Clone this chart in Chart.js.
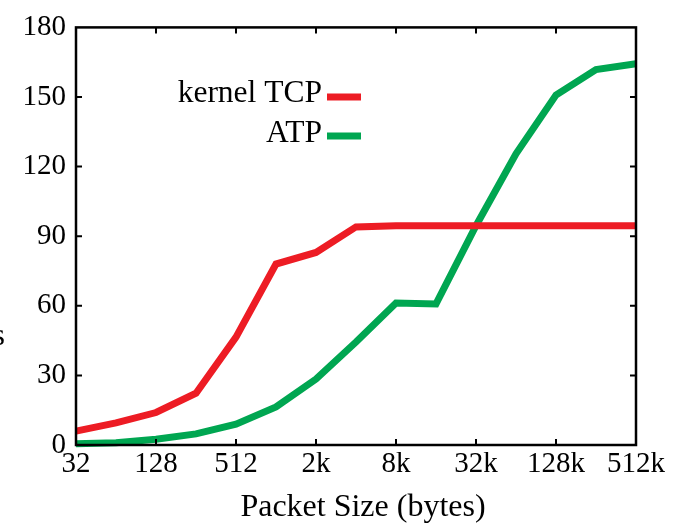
<!DOCTYPE html>
<html>
<head>
<meta charset="utf-8">
<script src="https://cdn.jsdelivr.net/npm/chart.js@4/dist/chart.umd.min.js"></script>
<style>
  html, body { margin: 0; padding: 0; background: #fff; }
  #wrap { position: relative; width: 674px; height: 523px; }
</style>
</head>
<body>
<div id="wrap"><canvas id="c" width="674" height="523"></canvas></div>
<script>
// ---- data ----
const packetSizes = ['32','64','128','256','512','1k','2k','4k','8k','16k','32k','64k','128k','256k','512k'];
const kernelTCP = [6, 9.5, 14, 22.3, 46.5, 78, 83, 94, 94.5, 94.5, 94.5, 94.5, 94.5, 94.5, 94.5];
const atp       = [0.5, 1, 2.5, 4.8, 9, 16.4, 28.4, 44.4, 61.2, 60.8, 94.5, 125.5, 150.8, 161.8, 164.3];
const yTicks = [0, 30, 60, 90, 120, 150, 180];
const seriesNames = ['kernel TCP', 'ATP'];
const seriesColors = ['#ED1C24', '#00A651'];
const xTitle = 'Packet Size (bytes)';
const yTitleFragment = 'Gbps';

const SERIF = '"Liberation Serif", "DejaVu Serif", serif';

const framePlugin = {
  id: 'frame',
  afterDraw(chart) {
    const ctx = chart.ctx;
    const a = chart.chartArea;
    const xs = chart.scales.x, ys = chart.scales.y;
    ctx.save();
    ctx.strokeStyle = '#000';
    ctx.lineWidth = 2.5;
    ctx.strokeRect(a.left, a.top, a.right - a.left, a.bottom - a.top);
    ctx.lineWidth = 2;
    const tl = 6;
    // x inner ticks (labelled ones)
    for (let i = 1; i < packetSizes.length - 1; i++) {
      if (i % 2 !== 0) continue;
      const px = xs.getPixelForTick(i);
      ctx.beginPath();
      ctx.moveTo(px, a.bottom); ctx.lineTo(px, a.bottom - tl);
      ctx.moveTo(px, a.top); ctx.lineTo(px, a.top + tl);
      ctx.stroke();
    }
    // y inner ticks
    yTicks.forEach(v => {
      if (v === yTicks[0] || v === yTicks[yTicks.length - 1]) return;
      const py = ys.getPixelForValue(v);
      ctx.beginPath();
      ctx.moveTo(a.left, py); ctx.lineTo(a.left + tl, py);
      ctx.moveTo(a.right, py); ctx.lineTo(a.right - tl, py);
      ctx.stroke();
    });
    // legend
    ctx.font = '31.5px ' + SERIF;
    ctx.fillStyle = '#000';
    ctx.textAlign = 'right';
    ctx.textBaseline = 'alphabetic';
    const legY = [102, 142];
    const lineY = [97, 136];
    chart.data.datasets.forEach((ds, i) => {
      ctx.fillText(ds.label, 322, legY[i]);
      ctx.strokeStyle = ds.borderColor;
      ctx.lineWidth = 7;
      ctx.beginPath();
      ctx.moveTo(327, lineY[i]); ctx.lineTo(361, lineY[i]);
      ctx.stroke();
    });
    // x-axis title
    ctx.fillStyle = '#000';
    ctx.font = '32px ' + SERIF;
    ctx.textAlign = 'center';
    ctx.textBaseline = 'alphabetic';
    ctx.fillText(xTitle, 363, 516);
    // cut-off y-axis title fragment
    ctx.textAlign = 'right';
    ctx.fillText(yTitleFragment, 5, 345);
    ctx.restore();
  }
};

new Chart(document.getElementById('c'), {
  type: 'line',
  data: {
    labels: packetSizes,
    datasets: [
      { label: seriesNames[0], data: kernelTCP, borderColor: seriesColors[0], backgroundColor: seriesColors[0],
        borderWidth: 7, pointRadius: 0, tension: 0, fill: false, borderJoinStyle: 'miter', clip: 4 },
      { label: seriesNames[1], data: atp, borderColor: seriesColors[1], backgroundColor: seriesColors[1],
        borderWidth: 7, pointRadius: 0, tension: 0, fill: false, borderJoinStyle: 'miter', clip: 4 }
    ]
  },
  options: {
    responsive: false,
    animation: false,
    devicePixelRatio: 1,
    layout: { padding: { top: 27, right: 38, left: 0, bottom: 0 } },
    plugins: { legend: { display: false }, tooltip: { enabled: false } },
    scales: {
      x: {
        type: 'category',
        offset: false,
        grid: { display: false, drawTicks: false },
        border: { display: false },
        ticks: {
          autoSkip: false, maxRotation: 0, padding: 2,
          color: '#000', font: { family: SERIF, size: 29 },
          callback: (v, i) => (i % 2 === 0 ? packetSizes[i] : '')
        },
        title: { display: false },
        afterFit: s => { s.height = 78; }
      },
      y: {
        min: 0, max: 180,
        grid: { display: false, drawTicks: false },
        border: { display: false },
        afterBuildTicks: s => { s.ticks = yTicks.map(v => ({ value: v })); },
        ticks: { color: '#000', padding: 10, font: { family: SERIF, size: 29 } },
        afterFit: s => { s.width = 76; }
      }
    }
  },
  plugins: [framePlugin]
});
</script>
</body>
</html>
